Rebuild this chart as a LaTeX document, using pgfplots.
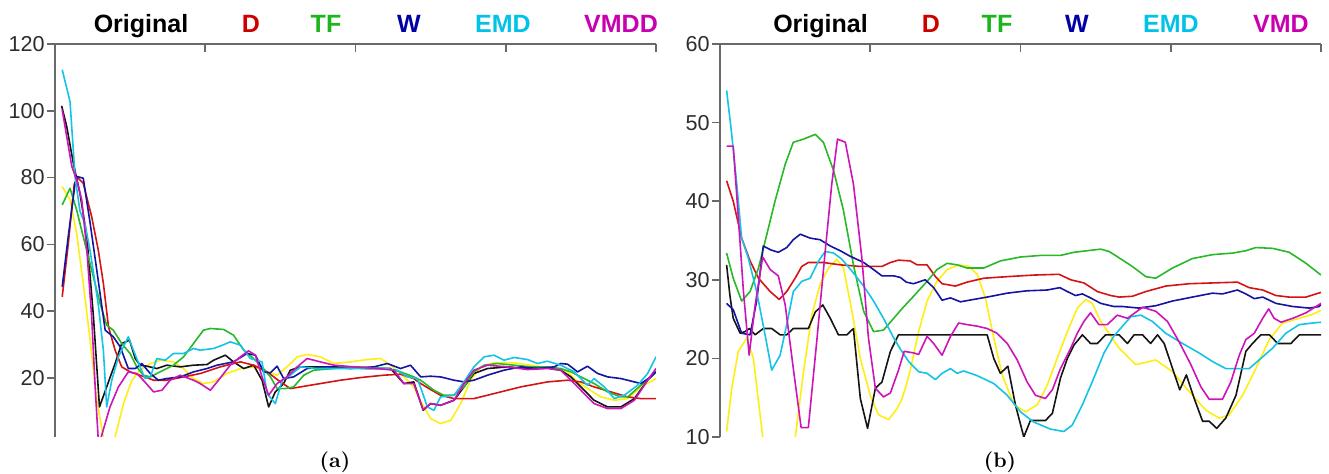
\documentclass[border=0pt]{standalone}
\usepackage{pgfplots}
\pgfplotsset{compat=1.18}
\usepackage{fontspec}
\newfontfamily\arialfont{Liberation Sans}
\definecolor{axisgray}{RGB}{105,105,105}
\definecolor{ticktext}{RGB}{45,45,45}
\definecolor{cBlack}{RGB}{20,20,20}
\definecolor{cRed}{RGB}{212,20,20}
\definecolor{cGreen}{RGB}{40,185,40}
\definecolor{cBlue}{RGB}{20,20,160}
\definecolor{cCyan}{RGB}{20,195,230}
\definecolor{cMag}{RGB}{205,20,185}
\definecolor{cYel}{RGB}{255,238,20}
\definecolor{tRed}{RGB}{205,0,0}
\definecolor{tGreen}{RGB}{30,180,30}
\definecolor{tBlue}{RGB}{0,0,165}
\definecolor{tCyan}{RGB}{0,195,230}
\definecolor{tMag}{RGB}{200,0,175}
\pgfplotsset{panel/.style={
  scale only axis, width=300.5pt, height=196.5pt,
  xmin=0, xmax=200, xtick={50,100,150,200}, xticklabels={{},{},{},{}},
  axis x line=top, axis y line=left,
  axis line style={-, draw=axisgray, line width=0.8pt},
  tick align=inside, major tick length=4pt,
  major x tick style={draw=axisgray, line width=0.8pt},
  major y tick style={draw=axisgray, line width=0.8pt, xshift=-4pt},
  yticklabel style={font=\arialfont\fontsize{10.8}{12}\selectfont, text=ticktext, xshift=-4pt, inner sep=1pt},
  /pgf/number format/assume math mode=true,
  every axis plot/.append style={line width=0.8pt, mark=none, line join=round},
}}
\newcommand{\hdr}[3]{\node[anchor=base, text=#2, font=\arialfont\bfseries\fontsize{12.5}{14}\selectfont] at (#1pt,220.9pt) {#3};}
\begin{document}
\begin{tikzpicture}
\useasboundingbox (0,0) rectangle (664.5pt,237pt);
% ---------------- panel (a)
\begin{axis}[panel, at={(27.5pt,18.5pt)}, anchor=south west, ymin=2.3, ymax=120, ytick={20,40,60,80,100,120}]
\addplot[cYel] coordinates {(2.4,77.3) (5,73.3) (7.2,63.3) (9.4,48.3) (11.7,31.3) (13.9,13.3) (16.1,2.3) (18,-2) (20,2.3) (22.8,12.3) (25.6,19.3) (28.3,22.3) (31.7,24.3) (35,25.3) (39.4,24.8) (42.8,22.8) (46.1,19.8) (49.4,18.3) (52.8,18.8) (57.2,21.3) (61.7,22.8) (66.1,23.3) (70.6,21.8) (73.9,20.8) (77.2,23.3) (80.6,26.3) (83.9,27) (88.3,26.3) (92.8,24.3) (98.3,24.8) (103.9,25.5) (108.3,25.8) (111.7,23.8) (115,21.3) (119.4,17.3) (121.7,13) (125,7.8) (128.3,6.3) (131.7,7.3) (135,12.3) (138.3,19.3) (141.7,23.3) (146.1,24.5) (152.8,24.5) (158.3,23.8) (166.1,22.8) (170.6,21.8) (173.9,18.8) (177.2,16.8) (181.7,14.3) (186.1,13.3) (190.6,13.8) (195,17.3) (200,19.8)};
\addplot[cBlack] coordinates {(2.2,101.5) (3.9,95.3) (6.1,84.3) (8.3,75.3) (10.6,62.3) (12.8,38.3) (14.8,11.3) (17.2,17.3) (20,24.3) (22.2,30.3) (24.8,31.3) (26.7,25.8) (28.3,23.8) (30.6,23.5) (33.9,22.8) (37.2,23.8) (41.7,23.3) (46.1,23.8) (50.6,24) (52.8,25.3) (56.7,26.8) (59.4,24.8) (62.8,22.8) (66.1,23.8) (68.9,19.3) (71.1,11.3) (73.3,15.8) (76.1,18.3) (78.3,22.3) (81.7,23.3) (92.8,23.3) (103.9,22.8) (111.7,22.8) (116.1,18.3) (119.4,18.8) (122.5,10.3) (125,12.3) (128.3,11.8) (132.8,13.3) (136.1,17.3) (139.4,21.3) (143.9,22.8) (150.6,23.3) (157.2,22.8) (161.7,23.3) (168.3,22.3) (171.7,20.3) (175,17.3) (179.4,13.3) (183.9,11.3) (188.3,11.3) (192.8,13.8) (197.2,19.3) (200,21.8)};
\addplot[cRed] coordinates {(2.4,44.3) (4.4,60) (6.4,78) (7.5,80) (9.4,78.3) (12.2,68.3) (14.4,58.3) (16.1,48.3) (17.8,35.3) (20,28.3) (22.2,23.3) (25,21.8) (28.3,20.8) (32.8,19.3) (37.2,19.3) (42.8,20.3) (48.3,21.3) (55,23.3) (61.7,24.8) (66.1,23.8) (70.6,21.8) (75,18.8) (78.3,16.8) (81.7,17.3) (88.3,18.3) (95,19.3) (101.7,20.1) (109.4,20.8) (115,21.1) (119.4,19.8) (121.7,18.3) (125,16.5) (128.3,14.8) (132.8,13.8) (139.4,13.8) (146.1,15.3) (155,17.3) (163.9,18.8) (170.6,19.3) (175,18.8) (179.4,17.3) (185,15.8) (190.6,14.3) (195,13.8) (200,13.8)};
\addplot[cGreen] coordinates {(2.4,71.8) (5,76.8) (7.2,70.3) (9.4,62.3) (12.2,52.3) (15,42.3) (17.2,35.8) (19.4,34.3) (22.2,30.3) (25,27.3) (27.2,23.3) (29.4,20.8) (31.7,20.3) (35,21.8) (39.4,23.8) (42.8,26.3) (46.1,30.3) (49.4,34.3) (51.7,34.8) (56.1,34.5) (59.4,32.8) (62.8,28.3) (66.1,25.8) (68.9,23.3) (71.7,20.3) (73.9,16.8) (76.7,16.8) (79.4,17.3) (82.8,20.8) (86.1,22.3) (92.8,22.8) (100.6,23.3) (110.6,22.8) (115,21.8) (119.4,20.3) (121.7,19.3) (126.1,16.3) (129.4,14.8) (132.8,14.8) (136.1,17.3) (139.4,21.8) (142.8,23.8) (147.2,24.3) (152.8,23.8) (158.3,23.3) (163.9,23.3) (168.3,22.8) (171.7,21.8) (175,20.3) (179.4,18.3) (183.9,15.8) (188.3,14.3) (190.6,14.3) (195,17.8) (200,21.8)};
\addplot[cBlue] coordinates {(2.4,47.3) (4.4,62.3) (6.7,78.3) (7.4,80.3) (9.4,79.8) (11.7,66.3) (13.9,52.3) (16.7,34.3) (19.4,32.3) (21.7,29.3) (24.4,22.8) (26.7,22.8) (28.9,24.3) (31.7,21.3) (34.4,19.3) (37.2,19.8) (41.7,20.3) (46.1,21.8) (50.6,22.8) (53.9,23.8) (59.4,24.8) (63.9,27.3) (66.7,26.8) (69.4,21.8) (71.7,21.5) (73.9,23.5) (76.1,19.8) (79.4,20.3) (83.9,22.8) (90.6,23.3) (98.3,22.8) (106.1,23.3) (110.6,24.3) (115,22.8) (118.3,23.8) (121.7,20.3) (125,20.5) (128.3,20.3) (132.8,19.3) (136.1,18.8) (139.4,19.3) (143.9,20.8) (149.4,22.3) (155,23.3) (160.6,22.8) (166.1,23.3) (168.3,24.3) (170.6,24.1) (173.9,21.8) (177.2,23.5) (180.6,21.3) (183.9,20.3) (188.3,19.8) (192.8,18.8) (195,18.3) (198.3,20.3) (200,21.8)};
\addplot[cCyan] coordinates {(2.4,112.3) (5,102.8) (6.7,80) (8.3,70) (10,66) (11.7,58) (14.4,42) (16.1,28.3) (17.2,11.3) (18.9,19.3) (21.1,26.3) (24.4,32.3) (26.1,28.3) (28.3,23.3) (30,19.8) (31.7,20.3) (33.9,25.8) (36.7,25.3) (39.4,27.3) (42.8,27.3) (46.1,28.8) (48.3,28.3) (52.8,28.8) (56.3,30) (58.3,30.8) (61.7,29.8) (65,25.8) (68.9,24.8) (70.6,15.3) (73.3,12.3) (75.6,19.3) (78.3,20.8) (81.7,23.3) (87.2,22.8) (95,22.8) (101.7,22.8) (109.4,22.8) (113.9,22.3) (117.2,20.3) (120.6,19.8) (122.5,15) (123.9,11.3) (126.1,10.3) (128.3,14.3) (132.8,14.8) (136.1,18.8) (139.4,23.3) (142.8,26.3) (146.1,26.8) (149.4,25.3) (152.8,26.1) (157.2,25.5) (160.6,24.3) (163.9,25) (168.3,23.8) (172.8,21.8) (177.2,17.8) (179.4,19.8) (182.8,17.3) (186.1,13.8) (189.4,14.8) (193.9,17.8) (197.2,21.3) (200,26.3)};
\addplot[cMag] coordinates {(2.4,100.3) (3.9,92.3) (5.6,83.3) (7.2,79.3) (8.9,73.3) (10.6,58.3) (12.2,38.3) (13.5,15) (14.5,0) (15.6,3) (18.3,11.3) (21.1,17.3) (24.4,21.8) (27.2,21.3) (29.4,19.3) (32.8,15.8) (35.6,16.3) (38.3,19.3) (41.7,20.8) (46.1,19.3) (48.3,18.3) (51.7,16.3) (54.4,19.3) (58.3,23.8) (61.7,26.3) (64.4,28.1) (66.7,26.8) (68.9,20.3) (71.1,14.8) (73.9,18.3) (77.2,20.3) (80.6,23.3) (83.9,25.8) (88.3,24.8) (92.8,23.8) (99.4,23.3) (107.2,22.8) (112.8,22.3) (116.1,18.3) (119.4,18.3) (122.5,10.5) (125,12.3) (128.3,11.8) (132.8,13.3) (136.1,18.3) (139.4,22.3) (143.9,23.8) (150.6,23.3) (157.2,22.5) (163.9,22.8) (168.3,22.3) (171.7,19.3) (175,16.3) (179.4,12.3) (183.9,10.8) (188.3,10.8) (192.8,13.3) (197.2,19.3) (200,22.8)};
\end{axis}
% ---------------- panel (b)
\begin{axis}[panel, at={(360pt,18.5pt)}, anchor=south west, ymin=10, ymax=60, ytick={10,20,30,40,50,60}]
\addplot[cYel] coordinates {(2.2,10.7) (3.9,16.2) (6.1,20.9) (8.9,22.6) (11.1,20) (12.8,14.5) (14.4,9.5) (17,3) (20,0) (23,3) (25,9.8) (27.8,18.3) (30.6,25.6) (33.3,29.4) (36.1,31.5) (38.9,32.6) (41.1,31.5) (43.9,26) (46.7,20) (50,15.3) (52.8,12.8) (56.1,12.2) (58.9,13.6) (60.3,14.6) (61.7,16.2) (63.3,18.5) (66.1,23.4) (68.9,27.3) (72.2,29.8) (75.6,31.3) (79.4,31.9) (82.8,31.7) (85.6,30.7) (88.3,27.7) (91.1,22.6) (93.9,17.9) (97.8,14.1) (101.7,13.2) (105.6,14.1) (108.9,16.6) (112.2,20) (115.6,23.4) (118.9,26.4) (121.7,27.5) (123.9,27) (126.7,24.7) (129.4,23.2) (132.8,21.3) (138.3,19.2) (145,19.8) (150.6,18.3) (156.1,15.8) (161.7,13.4) (166.1,12.4) (169.4,12.8) (173.9,15.3) (178.3,18.7) (182.8,22.4) (187.2,24.5) (192.8,25.1) (197.2,25.6) (200,26.1)};
\addplot[cBlack] coordinates {(2.2,31.9) (3.3,28) (4.4,25.1) (6.7,23.2) (8.3,23.4) (9.8,23.8) (11.7,23) (14.4,23.8) (17.2,23.8) (20,23) (22.2,23) (24.4,23.8) (29.4,23.8) (31.7,25.9) (34.2,26.8) (36.7,25.1) (39.4,23) (42.2,23) (44.4,23.8) (46.7,14.9) (49.1,11.1) (51.7,16.2) (53.9,17) (56.7,20.9) (59.4,23) (63.3,23) (88.9,23) (91.1,20) (93.3,18.1) (95.8,19) (98.3,14.1) (101.1,10) (103.3,12.1) (108.3,12.1) (110.6,13) (113.3,17.5) (115.6,20) (117.8,21.7) (120.6,23) (123.3,21.9) (125.6,21.9) (128.3,23) (132.8,23) (135.6,21.9) (137.8,23) (140.6,23) (143.3,21.9) (145.6,23) (147.8,21.9) (150.6,18.7) (153,16) (155.2,17.9) (157.8,14.9) (160.6,12) (162.8,12) (165.3,11.1) (168.3,12.4) (171.7,15.3) (175,20.9) (177.2,21.9) (180,23) (182.8,23) (185.6,21.9) (190,21.9) (192.8,23) (200,23)};
\addplot[cRed] coordinates {(2.2,42.6) (4.4,40) (7.2,35.3) (10,32.4) (12.8,30.2) (16.7,28.5) (19.7,27.5) (22.2,28.5) (25,30.2) (27.2,31.7) (29.4,32.2) (34.4,32.2) (40,31.9) (46.7,31.7) (53.9,31.7) (56.7,32.2) (59.4,32.5) (63.3,32.4) (65.6,31.9) (68.9,31.9) (71.7,30.4) (73.9,29.5) (78.3,29.2) (82.2,29.7) (87.8,30.2) (95.6,30.4) (104.4,30.6) (112.8,30.7) (116.7,30) (121.1,29.6) (125.6,28.5) (130,28) (132.8,27.8) (137.2,27.9) (141.7,28.5) (148.3,29.2) (156.1,29.5) (163.9,29.6) (172.2,29.7) (176.1,29) (180.6,28.7) (185,28) (189.4,27.8) (195,27.8) (200,28.4)};
\addplot[cGreen] coordinates {(2.2,33.4) (4.4,30.2) (7.2,27.3) (10,28.5) (12.8,31.5) (15.6,35.8) (18.3,40) (21.7,44.7) (24.4,47.5) (27.8,47.9) (31.7,48.5) (34.4,47.5) (37.8,43.9) (41.1,38.8) (44.4,31.9) (47.8,26) (51.1,23.4) (54.4,23.6) (57.8,25.1) (60.5,26.3) (64.4,27.9) (68.9,29.8) (72.2,31.3) (75.6,32.1) (78.9,31.9) (82.2,31.5) (87.8,31.5) (93.3,32.4) (100,32.9) (106.7,33.1) (113.3,33.1) (117.8,33.5) (122.2,33.7) (126.7,33.9) (129.5,33.6) (132.8,32.8) (137.2,31.7) (141.7,30.4) (145,30.2) (150.6,31.5) (157.2,32.7) (163.9,33.2) (170.6,33.4) (175,33.7) (178.3,34.1) (183.9,34) (189.4,33.5) (195,32.1) (200,30.6)};
\addplot[cBlue] coordinates {(2.2,27) (4.4,26.2) (7.2,23.2) (10,23) (12.2,27.3) (14.4,34.3) (16.9,33.8) (19.4,33.5) (22.2,34.1) (24.4,35.1) (26.7,35.8) (30,35.3) (33.3,35.1) (36.7,34.3) (40,33.7) (43.3,33) (47.8,32.2) (51.1,31.3) (53.9,30.5) (57.8,30.5) (60,30.3) (62,29.7) (64.4,29.5) (68.3,30) (71.1,29) (73.9,27.4) (76.7,27.7) (80,27.2) (84.4,27.5) (88.9,27.8) (95.6,28.3) (102.2,28.6) (108.9,28.7) (113.1,29) (115.6,28.5) (118.3,28) (120.6,28.2) (123.3,27.7) (126.7,27) (131.1,26.6) (133.9,26.6) (139.4,26.4) (145,26.7) (150.6,27.3) (157.2,27.8) (163.9,28.3) (167.2,28.2) (172.2,28.7) (175,28.2) (177.8,27.6) (180.6,27.8) (185,27) (190.6,26.6) (196.1,26.4) (199.4,26.6) (200,26.9)};
\addplot[cCyan] coordinates {(2.2,54.1) (3.9,48.5) (5.6,42.1) (7.2,35.3) (9.4,32.8) (12.2,28.5) (15,23) (17.2,18.5) (20,20.4) (22.2,24.3) (24.4,28.5) (27.2,29.8) (30,30.2) (32.8,32.4) (35,33.6) (37.8,33.4) (40.6,32.6) (43.9,31.1) (47.8,29.2) (51.1,27.3) (54.4,25.1) (57.8,22.6) (60,21.2) (62.8,19.6) (66.1,18.3) (68.9,18.1) (71.7,17.3) (73.9,18.1) (76.7,18.7) (78.9,18.1) (81.1,18.4) (85.6,17.8) (91.1,16.8) (95.6,15.3) (100,13.2) (104.4,11.9) (110,11) (114.4,10.7) (117.2,11.5) (120.6,14.1) (124.4,17.5) (127.8,20.7) (131,22.8) (132.8,23.6) (136.7,25.3) (140,25.5) (143.9,24.7) (148.3,23.2) (153.9,21.9) (159.4,20.7) (163.9,19.6) (168.3,18.7) (172.8,18.7) (176.1,18.7) (179.4,19.8) (183.9,21.3) (188.3,23.2) (192.8,24.3) (197.2,24.5) (200,24.6)};
\addplot[cMag] coordinates {(2.2,47) (4.4,47) (6.1,37.9) (7.8,28.5) (9.7,20.4) (11.7,26.8) (14.2,32.9) (16.7,31.3) (19.4,30.5) (21.7,26.8) (24.4,18.7) (27,11.2) (29.4,11.2) (32.2,22.2) (35,33.6) (37.2,42.2) (39.1,47.9) (41.7,47.5) (44.4,42.2) (47.2,32.8) (49.4,22.6) (51.7,16.2) (54.4,15.1) (56.7,15.6) (59.4,18.5) (61.3,20.9) (64.4,20.7) (66.1,20.5) (68.9,22.8) (71.1,21.9) (73.9,20.4) (76.7,22.8) (79.4,24.5) (82.2,24.3) (85.6,24.1) (88.9,23.8) (92.2,23.2) (95.6,21.9) (98.9,19.8) (102.2,17) (105,15.3) (108.3,14.9) (110.6,16) (113.3,18.7) (116.7,21.3) (118.9,23.2) (121.1,24.7) (123.3,25.8) (126.1,24.3) (128.9,24.3) (132.2,25.5) (135.6,25.1) (140.6,26.5) (145,26) (148.9,24.7) (152.8,22.1) (156.7,19.2) (160,16.4) (162.8,14.8) (167.2,14.8) (170,17) (172.8,20.4) (175,22.4) (177.8,23.2) (180.6,25.1) (182.6,26.3) (184.4,25.1) (186.7,24.6) (190.6,25.1) (195,25.8) (200,27)};
\end{axis}
% ---------------- header texts
\hdr{70.5}{black}{Original}
\hdr{125.5}{tRed}{D}
\hdr{163}{tGreen}{TF}
\hdr{204.5}{tBlue}{W}
\hdr{251.5}{tCyan}{EMD}
\hdr{310.5}{tMag}{VMDD}
\hdr{410.25}{black}{Original}
\hdr{465.5}{tRed}{D}
\hdr{498.5}{tGreen}{TF}
\hdr{538.5}{tBlue}{W}
\hdr{585.5}{tCyan}{EMD}
\hdr{640.5}{tMag}{VMD}
% ---------------- panel labels
\node[font=\bfseries\fontsize{10.5}{12}\selectfont] at (167.5pt,6pt) {(a)};
\node[font=\bfseries\fontsize{10.5}{12}\selectfont] at (500pt,6pt) {(b)};
\end{tikzpicture}
\end{document}
